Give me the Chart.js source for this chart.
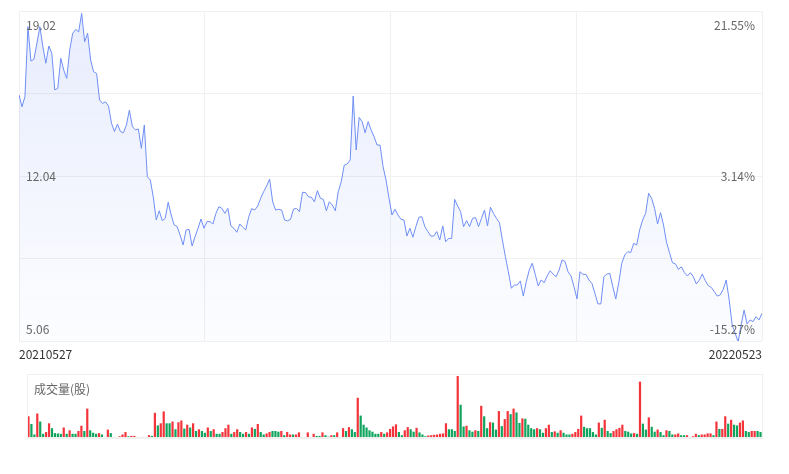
<!DOCTYPE html>
<html><head><meta charset="utf-8">
<script src="https://cdn.jsdelivr.net/npm/chart.js@4"></script>
<style>
body{margin:0;background:#fff;font-family:"Microsoft YaHei","Noto Sans CJK SC",sans-serif}
#p{position:absolute;left:0;top:0;width:789px;height:370px}
#v{position:absolute;left:0;top:370px;width:789px;height:104px}
</style></head><body>
<div id="p"><canvas id="price"></canvas></div>
<div id="v"><canvas id="vol"></canvas></div>
<script>
// daily close
const closes = [15.47,14.97,15.40,18.36,16.90,16.98,17.65,18.36,17.51,16.81,17.54,17.23,15.68,15.75,17.02,16.52,16.17,17.37,18.08,18.24,18.14,18.92,17.72,18.08,16.95,16.45,16.38,15.26,15.11,15.18,15.00,14.27,13.92,14.24,13.92,13.87,14.20,14.83,14.13,13.99,14.03,13.21,14.20,12.01,11.87,11.16,10.18,10.57,10.15,10.25,10.93,10.39,9.97,9.90,9.54,9.12,9.76,9.78,9.08,9.47,9.83,10.22,9.83,10.11,10.11,10.01,10.46,10.74,10.67,10.46,10.67,9.93,9.83,9.66,10.01,9.87,9.76,10.32,10.66,10.60,10.77,11.10,11.38,11.62,11.91,10.95,10.60,10.63,10.60,10.18,10.14,10.21,10.64,10.67,10.53,11.35,11.34,11.16,11.14,10.95,11.42,11.10,11.05,10.57,10.95,10.81,10.57,11.38,11.80,12.50,12.55,12.72,15.42,13.14,14.52,14.34,13.87,14.34,13.99,13.70,13.35,13.35,12.44,11.87,11.10,10.39,10.63,10.39,10.21,
10.18,9.50,9.83,9.45,9.90,10.29,10.32,9.90,9.69,9.50,9.50,9.69,9.33,9.93,9.26,9.40,9.40,11.05,10.77,10.53,9.90,10.15,9.90,10.25,10.28,9.90,10.25,10.60,9.93,10.72,10.46,10.25,10.07,9.33,8.63,7.99,7.29,7.43,7.43,7.60,6.96,7.57,8.06,8.35,7.88,7.39,7.64,7.53,7.81,8.03,7.89,7.78,8.06,8.49,8.42,7.99,7.81,7.36,6.84,7.99,7.88,7.88,7.64,7.50,7.08,6.63,6.63,7.78,7.89,7.92,7.36,6.84,7.53,8.35,8.70,8.84,8.80,9.19,9.12,9.76,10.18,10.46,11.31,11.10,10.67,10.01,10.49,9.97,9.24,8.80,8.37,8.32,8.09,8.20,7.95,7.81,7.95,7.78,7.47,7.64,7.89,7.61,7.40,7.33,7.15,6.96,7.01,7.25,7.64,6.80,5.74,5.39,5.03,5.74,6.37,5.78,5.95,5.88,6.09,5.95,6.23];
// daily volume (relative) and whether the day closed up (1) or down (0)
const volumes = [62,40,10,70,47,12,17,42,28,14,13,12,30,12,22,12,12,20,35,20,84,22,15,12,14,10,3,24,14,3,3,5,10,17,5,6,6,3,0,3,2,8,6,72,36,42,76,42,42,47,25,45,50,27,38,30,42,20,25,20,15,30,20,25,12,12,17,28,38,12,17,25,17,12,17,12,30,26,40,17,10,13,17,20,20,18,
20,8,17,10,10,10,16,2,0,16,3,12,6,6,16,8,4,8,8,16,3,28,20,31,25,17,115,64,38,30,22,18,12,12,17,12,16,26,33,39,17,8,22,31,25,18,29,16,10,5,7,8,9,10,12,13,42,25,25,20,177,95,33,35,22,18,22,20,92,62,28,45,44,24,77,34,54,77,68,84,73,43,56,55,
38,28,25,28,25,15,28,38,17,19,15,22,15,10,10,12,17,26,64,32,28,28,17,10,44,29,52,20,14,20,25,29,38,20,18,13,14,12,161,41,24,59,32,18,24,17,8,22,20,10,10,13,8,8,8,3,5,12,8,10,10,13,13,8,47,26,26,62,41,52,38,36,44,50,20,17,20,20,20,17];
const volUp = [1,0,0,1,0,0,1,1,0,0,0,0,1,0,1,0,0,1,1,0,1,0,0,0,1,0,0,1,0,0,0,1,1,1,0,1,1,0,1,1,0,1,0,1,0,1,1,0,0,1,0,1,1,0,1,0,1,0,1,0,0,1,0,1,0,0,1,1,1,0,1,1,0,0,1,0,1,0,1,0,0,1,1,0,0,0,
1,0,1,1,0,1,1,0,0,1,0,1,0,0,1,0,0,1,0,1,0,1,0,1,0,0,1,0,0,0,0,0,0,0,1,0,1,1,1,1,0,0,1,1,0,0,1,0,0,0,1,1,1,1,1,1,1,0,0,0,1,0,0,1,0,0,1,0,1,0,0,1,0,0,1,0,1,1,0,1,0,0,1,0,
0,0,0,1,0,0,1,1,0,1,0,1,0,0,0,1,1,1,1,0,0,0,0,0,1,0,1,0,0,1,1,1,1,0,0,0,1,0,1,0,0,1,0,0,1,0,0,1,0,0,1,1,0,0,1,0,1,1,0,1,1,1,1,0,1,0,1,1,0,1,0,0,1,1,0,0,1,1,0,0];
const dateLabels = ['20210527','20220523'];
const priceTicks = [5.06,8.55,12.04,15.53,19.02];
const priceLabels = ['19.02','12.04','5.06'];
const pctLabels = ['21.55%','3.14%','-15.27%'];

const n = closes.length;
const font = '12px "Microsoft YaHei","Noto Sans CJK SC",sans-serif';

const textPlugin = {
  id: 'txt',
  afterDraw(c) {
    const ctx = c.ctx, a = c.chartArea;
    ctx.save();
    ctx.font = font; ctx.fillStyle = '#666';
    const ys = [a.top + 14, (a.top + a.bottom) / 2, a.bottom - 12];
    ctx.textBaseline = 'middle';
    ctx.textAlign = 'left';
    priceLabels.forEach((t, i) => ctx.fillText(t, a.left + 7, ys[i]));
    ctx.textAlign = 'right';
    pctLabels.forEach((t, i) => ctx.fillText(t, a.right - 7, ys[i]));
    ctx.fillStyle = '#333';
    ctx.textBaseline = 'top';
    ctx.textAlign = 'left'; ctx.fillText(dateLabels[0], a.left, a.bottom + 7);
    ctx.textAlign = 'right'; ctx.fillText(dateLabels[1], a.right, a.bottom + 7);
    ctx.restore();
  }
};

new Chart(document.getElementById('price'), {
  type: 'line',
  data: {
    datasets: [{
      data: closes.map((v, i) => ({x: i, y: v})),
      borderColor: '#6f8ef5', borderWidth: 1, pointRadius: 0, tension: 0,
      fill: 'start',
      backgroundColor: (cx) => {
        const a = cx.chart.chartArea;
        if (!a) return 'rgba(111,142,245,0.08)';
        const g = cx.chart.ctx.createLinearGradient(0, a.top, 0, a.bottom);
        g.addColorStop(0, 'rgba(111,142,245,0.16)');
        g.addColorStop(1, 'rgba(111,142,245,0.02)');
        return g;
      }
    }]
  },
  options: {
    responsive: true, maintainAspectRatio: false, animation: false,
    layout: {padding: {left: 19, right: 27, top: 11, bottom: 29}},
    plugins: {legend: {display: false}, tooltip: {enabled: false}},
    scales: {
      x: {type: 'linear', min: 0, max: n - 1,
        afterBuildTicks: s => { s.ticks = [0,1,2,3,4].map(k => ({value: k * (n - 1) / 4})); },
        ticks: {display: false}, grid: {color: '#f0f0f0', drawTicks: false}, border: {display: false}},
      y: {min: 5.06, max: 19.02,
        afterBuildTicks: s => { s.ticks = priceTicks.map(v => ({value: v})); },
        ticks: {display: false}, grid: {color: '#f0f0f0', drawTicks: false}, border: {display: false}}
    }
  },
  plugins: [textPlugin]
});

const volColors = volUp.map(u => u ? '#f5333a' : '#10a55e');

new Chart(document.getElementById('vol'), {
  type: 'bar',
  data: {
    labels: volumes.map((v, i) => i),
    datasets: [{data: volumes, backgroundColor: volColors, barPercentage: 0.75, categoryPercentage: 1}]
  },
  options: {
    responsive: true, maintainAspectRatio: false, animation: false,
    layout: {padding: {left: 19, right: 27, top: 5, bottom: 28}},
    plugins: {legend: {display: false}, tooltip: {enabled: false}},
    scales: {
      x: {ticks: {display: false}, grid: {display: false}, border: {color: '#f0f0f0'}},
      y: {min: 0, max: 180, ticks: {display: false}, grid: {display: false}, border: {display: false}}
    }
  },
  plugins: [{
    id: 'frame',
    afterDraw(c) {
      const ctx = c.ctx, a = c.chartArea;
      ctx.save();
      ctx.strokeStyle = '#f0f0f0';
      ctx.strokeRect(a.left + 0.5, a.top - 0.5, a.right - a.left, a.bottom - a.top);
      ctx.font = font; ctx.fillStyle = '#666'; ctx.textBaseline = 'middle';
      ctx.fillText('成交量(股)', a.left + 7, a.top + 14);
      ctx.restore();
    }
  }]
});
</script>
</body></html>
